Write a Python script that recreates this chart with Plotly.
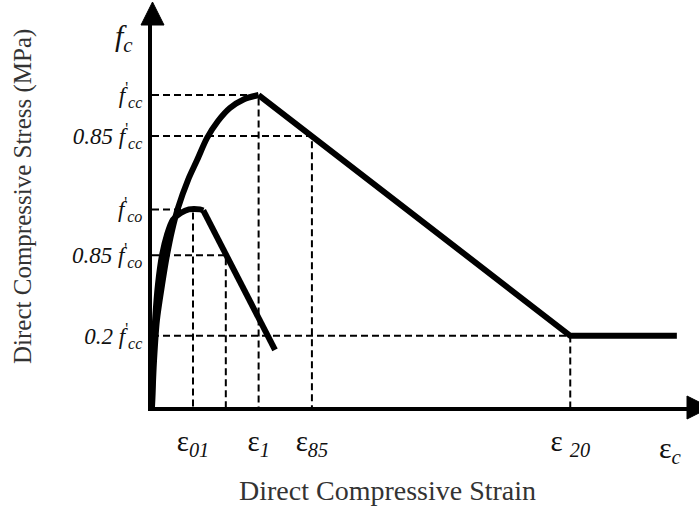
import plotly.graph_objects as go

# ---- figure geometry (pixels) ----
W, H = 699, 510
ML, MR, MT, MB = 152, 0, 22, 103
PLOT_W = W - ML - MR
PLOT_H = H - MT - MB

# ---- stress-strain data (strain, stress in MPa) ----
# confined concrete: ascending branch, then linear softening and residual plateau
conf_asc_strain = [0, 0.00010, 0.00024, 0.00049, 0.00073, 0.00098, 0.00127,
                   0.00176, 0.00220, 0.00268, 0.00322, 0.00380, 0.00449, 0.00520]
conf_asc_stress = [0, 9.0, 16.7, 23.5, 29.2, 34.0, 38.3,
                   43.7, 47.5, 51.7, 55.0, 57.5, 59.2, 60.0]
conf_desc_strain = [0.00520, 0.02040, 0.02560]
conf_desc_stress = [60.0, 13.7, 13.7]

# unconfined concrete: ascending branch with rounded peak, then linear descent
unconf_asc_strain = [0, 0.00005, 0.00015, 0.00029, 0.00049, 0.00073, 0.00102,
                     0.00140, 0.00180, 0.00234, 0.00250]
unconf_asc_stress = [0, 9.0, 16.7, 23.5, 29.2, 33.1, 36.0,
                     37.3, 38.0, 38.0, 37.8]
unconf_desc_strain = [0.00250, 0.00600]
unconf_desc_stress = [37.8, 11.0]

# ---- characteristic levels ----
stress_levels = [60.0, 52.1, 38.0, 29.2, 13.7]
stress_labels = [
    "<i>f</i><sup>'</sup><sub><i>cc</i></sub>",
    "<i>0.85 f</i><sup>'</sup><sub><i>cc</i></sub>",
    "<i>f</i><sup>'</sup><sub><i>co</i></sub>",
    "<i>0.85 f</i><sup>'</sup><sub><i>co</i></sub>",
    "<i>0.2 f</i><sup>'</sup><sub><i>cc</i></sub>",
]
strain_levels = [0.00200, 0.00360, 0.00520, 0.00780, 0.02040]
strain_labels = [
    "ε<sub><i>01</i></sub>",
    "",
    "ε<sub><i>1</i></sub>",
    "ε<sub><i>85</i></sub>",
    "ε <sub><i>20</i></sub>",
]
# which strain level each stress level's guide line meets
guide_pairs = [(2, 0), (3, 1), (0, 2), (1, 3), (4, 4)]

X_MAX = 0.02668
Y_MAX = 74.04


def px_x(px):
    return (px - ML) / PLOT_W


def px_y(py):
    return (H - MB - py) / PLOT_H


fig = go.Figure()

# dashed guide lines: from the stress axis across, then down to the strain axis
gx, gy = [], []
for si, fi in guide_pairs:
    e, s = strain_levels[si], stress_levels[fi]
    gx += [0, e, e, None]
    gy += [s, s, 0, None]
fig.add_trace(go.Scatter(x=gx, y=gy, mode="lines", hoverinfo="skip",
                         line=dict(color="black", width=2, dash="7px,4px")))

curve = dict(color="black", width=6)
fig.add_trace(go.Scatter(x=unconf_asc_strain, y=unconf_asc_stress, mode="lines",
                         line=dict(**curve, shape="spline", smoothing=0.8)))
fig.add_trace(go.Scatter(x=unconf_desc_strain, y=unconf_desc_stress, mode="lines",
                         line=curve))
fig.add_trace(go.Scatter(x=conf_asc_strain, y=conf_asc_stress, mode="lines",
                         line=dict(**curve, shape="spline", smoothing=0.8)))
fig.add_trace(go.Scatter(x=conf_desc_strain, y=conf_desc_stress, mode="lines",
                         line=curve))

serif = "Liberation Serif, Times New Roman, serif"

fig.update_layout(
    width=W, height=H,
    margin=dict(l=ML, r=MR, t=MT, b=MB),
    paper_bgcolor="white", plot_bgcolor="white",
    showlegend=False,
    xaxis=dict(range=[0, X_MAX], showgrid=False, zeroline=False,
               showline=True, linecolor="black", linewidth=4, ticks="",
               tickvals=strain_levels, ticktext=strain_labels,
               tickfont=dict(family=serif, size=29, color="#111"),
               ticklabelstandoff=5),
    yaxis=dict(range=[0, Y_MAX], showgrid=False, zeroline=False,
               showline=True, linecolor="black", linewidth=4, ticks="",
               tickvals=stress_levels, ticktext=stress_labels,
               tickfont=dict(family=serif, size=23, color="#111"),
               ticklabelstandoff=1),
)

# axis arrowheads
fig.add_shape(type="path", xref="paper", yref="paper", layer="above",
              path=f"M {px_x(141)} {px_y(25)} L {px_x(152.5)} {px_y(2)} L {px_x(164)} {px_y(25)} Z",
              fillcolor="black", line=dict(color="black", width=1))
fig.add_shape(type="path", xref="paper", yref="paper", layer="above",
              path=f"M {px_x(687)} {px_y(396)} L {px_x(710)} {px_y(407.5)} L {px_x(687)} {px_y(419)} Z",
              fillcolor="black", line=dict(color="black", width=1))

# axis symbols at the arrow ends
fig.add_annotation(x=px_x(124), y=px_y(38), xref="paper", yref="paper",
                   xanchor="center", yanchor="middle",
                   text="<i>f</i><sub><i>c</i></sub>", showarrow=False,
                   font=dict(family=serif, size=30, color="#111"))
fig.add_annotation(x=px_x(670), y=px_y(450), xref="paper", yref="paper",
                   xanchor="center", yanchor="middle",
                   text="ε<sub><i>c</i></sub>", showarrow=False,
                   font=dict(family=serif, size=30, color="#111"))

# axis titles
fig.add_annotation(x=px_x(387), y=px_y(490), xref="paper", yref="paper",
                   xanchor="center", yanchor="middle",
                   text="Direct Compressive Strain", showarrow=False,
                   font=dict(family=serif, size=28, color="#333"))
fig.add_annotation(x=px_x(23), y=px_y(197), xref="paper", yref="paper",
                   xanchor="center", yanchor="middle",
                   text="Direct Compressive Stress (MPa)", showarrow=False,
                   textangle=-90,
                   font=dict(family=serif, size=25, color="#333"))

fig.write_html("out.html")
